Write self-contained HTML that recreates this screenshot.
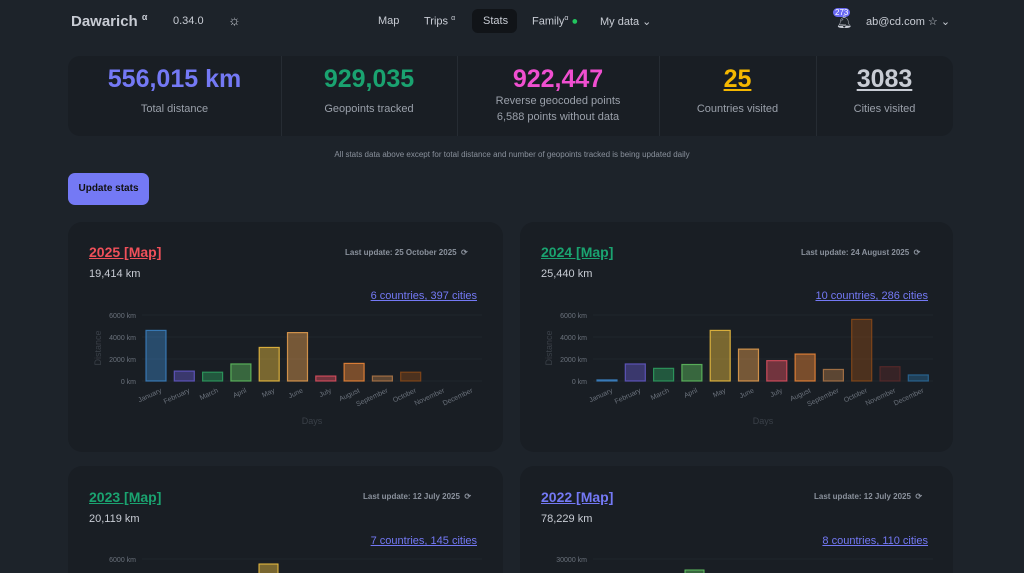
<!DOCTYPE html>
<html style="overflow:hidden;height:573px"><head><meta charset="utf-8">
<style>
*{margin:0;padding:0;box-sizing:border-box}
body{width:1024px;height:573px;overflow:hidden;background:#1d232a;font-family:"Liberation Sans",sans-serif;color:#a6adbb;position:relative}
.a{position:absolute;white-space:nowrap}
.card{position:absolute;background:#191e24;border-radius:14px}
.u{text-decoration:underline}
</style></head><body>
<div class="a" style="left:71px;top:12px;font-size:15px;font-weight:bold;color:#c8ccd4">Dawarich <sup style="font-size:9px">α</sup></div>
<div class="a" style="left:173px;top:15px;font-size:11px;color:#c8ccd4">0.34.0</div>
<div class="a" style="left:228px;top:12px;font-size:14px;color:#c8ccd4">☼</div>
<div class="a" style="left:378px;top:15px;font-size:11px;color:#c8ccd4">Map</div>
<div class="a" style="left:424px;top:15px;font-size:11px;color:#c8ccd4">Trips <sup style="font-size:7px">α</sup></div>
<div class="a" style="left:472px;top:9px;width:45px;height:24px;background:#111418;border-radius:6px"></div>
<div class="a" style="left:483px;top:15px;font-size:11px;color:#c8ccd4">Stats</div>
<div class="a" style="left:532px;top:15px;font-size:11px;color:#c8ccd4">Family<sup style="font-size:7px">α</sup> <span style="color:#22c55e">●</span></div>
<div class="a" style="left:600px;top:15px;font-size:11px;color:#c8ccd4">My data ⌄</div>
<div class="a" style="left:833px;top:8px;font-size:8px;background:#6a6af4;color:#fff;border-radius:6px;padding:0 2px">273</div>
<div class="a" style="left:836px;top:14px;font-size:13px;color:#c8ccd4">🔔︎</div>
<div class="a" style="left:866px;top:15px;font-size:11px;color:#c8ccd4">ab@cd.com ☆ ⌄</div>

<div class="card" style="left:68px;top:56px;width:885px;height:80px;border-radius:12px"></div>
<div class="a" style="left:281px;top:56px;width:1px;height:80px;background:#262c33"></div>
<div class="a" style="left:457px;top:56px;width:1px;height:80px;background:#262c33"></div>
<div class="a" style="left:659px;top:56px;width:1px;height:80px;background:#262c33"></div>
<div class="a" style="left:816px;top:56px;width:1px;height:80px;background:#262c33"></div>
<div class="a" style="left:68px;width:213px;top:65px;text-align:center;font-size:25px;font-weight:bold;color:#7479f5">556,015 km</div>
<div class="a" style="left:68px;width:213px;top:103px;text-align:center;font-size:11px;color:#9aa0aa">Total distance</div>
<div class="a" style="left:281px;width:176px;top:65px;text-align:center;font-size:25px;font-weight:bold;color:#1aa370">929,035</div>
<div class="a" style="left:281px;width:176px;top:103px;text-align:center;font-size:11px;color:#9aa0aa">Geopoints tracked</div>
<div class="a" style="left:457px;width:202px;top:65px;text-align:center;font-size:25px;font-weight:bold;color:#f04fd0">922,447</div>
<div class="a" style="left:457px;width:202px;top:95px;text-align:center;font-size:11px;color:#9aa0aa">Reverse geocoded points</div>
<div class="a" style="left:457px;width:202px;top:111px;text-align:center;font-size:11px;color:#9aa0aa">6,588 points without data</div>
<div class="a u" style="left:659px;width:157px;top:65px;text-align:center;font-size:25px;font-weight:bold;color:#f5b800">25</div>
<div class="a" style="left:659px;width:157px;top:103px;text-align:center;font-size:11px;color:#9aa0aa">Countries visited</div>
<div class="a u" style="left:816px;width:137px;top:65px;text-align:center;font-size:25px;font-weight:bold;color:#c8ccd4">3083</div>
<div class="a" style="left:816px;width:137px;top:103px;text-align:center;font-size:11px;color:#9aa0aa">Cities visited</div>
<div class="a" style="left:0;width:1024px;top:150px;text-align:center;font-size:8px;color:#8a919c">All stats data above except for total distance and number of geopoints tracked is being updated daily</div>
<div class="a" style="left:68px;top:173px;width:81px;height:32px;background:#7479f5;border-radius:7px;color:#111;font-size:10px;font-weight:bold;text-align:center;line-height:32px">Update stats</div>

<div class="card" style="left:68px;top:222px;width:435px;height:230px"></div>
<div class="card" style="left:520px;top:222px;width:433px;height:230px"></div>
<div class="card" style="left:68px;top:466px;width:435px;height:107px;border-radius:14px 14px 0 0"></div>
<div class="card" style="left:520px;top:466px;width:433px;height:107px;border-radius:14px 14px 0 0"></div>

<div class="a u" style="left:89px;top:244px;font-size:14px;font-weight:bold;color:#f0505a">2025 [Map]</div>
<div class="a" style="left:345px;top:248px;font-size:8px;font-weight:bold;color:#8a919c">Last update: 25 October 2025 &nbsp;⟳</div>
<div class="a" style="left:89px;top:268px;font-size:11px;color:#c8ccd4">19,414 km</div>
<div class="a u" style="right:547px;top:290px;font-size:11px;color:#7479f5">6 countries, 397 cities</div>

<div class="a u" style="left:541px;top:244px;font-size:14px;font-weight:bold;color:#1aa370">2024 [Map]</div>
<div class="a" style="left:801px;top:248px;font-size:8px;font-weight:bold;color:#8a919c">Last update: 24 August 2025 &nbsp;⟳</div>
<div class="a" style="left:541px;top:268px;font-size:11px;color:#c8ccd4">25,440 km</div>
<div class="a u" style="right:96px;top:290px;font-size:11px;color:#7479f5">10 countries, 286 cities</div>

<div class="a u" style="left:89px;top:489px;font-size:14px;font-weight:bold;color:#1aa370">2023 [Map]</div>
<div class="a" style="left:363px;top:492px;font-size:8px;font-weight:bold;color:#8a919c">Last update: 12 July 2025 &nbsp;⟳</div>
<div class="a" style="left:89px;top:513px;font-size:11px;color:#c8ccd4">20,119 km</div>
<div class="a u" style="right:547px;top:535px;font-size:11px;color:#7479f5">7 countries, 145 cities</div>

<div class="a u" style="left:541px;top:489px;font-size:14px;font-weight:bold;color:#7479f5">2022 [Map]</div>
<div class="a" style="left:814px;top:492px;font-size:8px;font-weight:bold;color:#8a919c">Last update: 12 July 2025 &nbsp;⟳</div>
<div class="a" style="left:541px;top:513px;font-size:11px;color:#c8ccd4">78,229 km</div>
<div class="a u" style="right:96px;top:535px;font-size:11px;color:#7479f5">8 countries, 110 cities</div>

<svg class="a" style="left:0;top:0" width="1024" height="573" font-family="Liberation Sans, sans-serif">
<g id="c1"></g>
</svg>
<script>
const cols=["#3b82c4","#6459c8","#2ea060","#60c060","#f0c040","#e8a050","#e05060","#f08838","#b07848","#8b4a18","#5a2a2a","#2a6a9a"];
const months=["January","February","March","April","May","June","July","August","September","October","November","December"];
function chart(x0,top,vals,max,labels){
 let s="";const h=66,base=top+66;
 labels.forEach((l,i)=>{const y=base-i*h/3;s+=`<text x="${x0-6}" y="${y+3}" font-size="7" fill="#6b727c" text-anchor="end">${l}</text><line x1="${x0}" x2="${x0+340}" y1="${y}" y2="${y}" stroke="#1f252c" stroke-width="1"/>`});
 s+=`<text transform="translate(${x0-41},${top+33}) rotate(-90)" font-size="9" fill="#3a4048" text-anchor="middle">Distance</text>`;
 vals.forEach((v,i)=>{const cx=x0+14+i*28.3;const bh=v/max*h;if(bh>0)s+=`<rect x="${cx-10}" y="${base-bh}" width="20" height="${bh}" fill="${cols[i]}" fill-opacity="0.45" stroke="${cols[i]}" stroke-opacity="0.85" stroke-width="1.2"/>`;
 s+=`<text transform="translate(${cx+6},${base+11}) rotate(-25)" font-size="7" fill="#6b727c" text-anchor="end">${months[i]}</text>`});
 s+=`<text x="${x0+170}" y="${base+43}" font-size="9" fill="#3a4048" text-anchor="middle">Days</text>`;
 return s;}
const L=["0 km","2000 km","4000 km","6000 km"];
let s=chart(142,315,[4600,900,800,1550,3050,4400,450,1600,450,800,0,0],6000,L);
s+=chart(593,315,[100,1550,1150,1500,4600,2900,1850,2450,1050,5600,1300,550],6000,L);
s+=`<text x="136" y="562" font-size="7" fill="#6b727c" text-anchor="end">6000 km</text><line x1="142" x2="482" y1="559" y2="559" stroke="#1f252c"/>`;
s+=`<rect x="259" y="564" width="19" height="12" fill="#f0c040" fill-opacity="0.45" stroke="#f0c040"/>`;
s+=`<text x="587" y="562" font-size="7" fill="#6b727c" text-anchor="end">30000 km</text><line x1="593" x2="933" y1="559" y2="559" stroke="#1f252c"/>`;
s+=`<rect x="685" y="570" width="19" height="8" fill="#60c060" fill-opacity="0.45" stroke="#60c060"/>`;
document.getElementById("c1").innerHTML=s;
</script>
</body></html>
